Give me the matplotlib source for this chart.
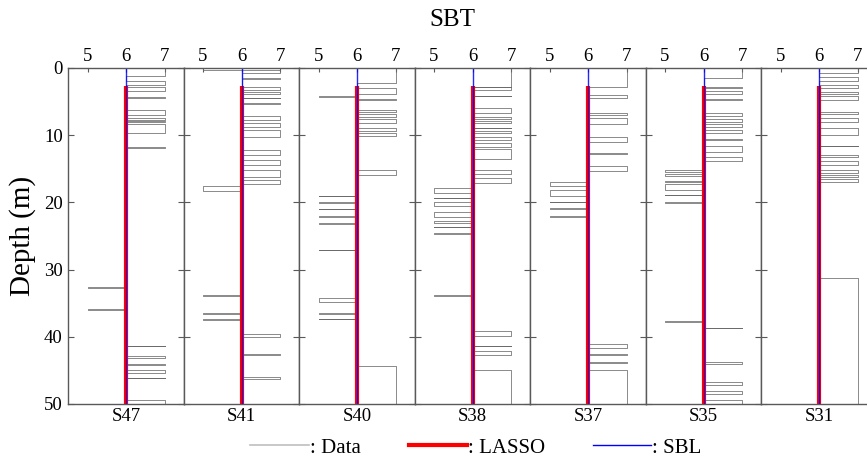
import matplotlib
matplotlib.use("Agg")
import matplotlib.pyplot as plt
from matplotlib.lines import Line2D

plt.rcParams['font.family'] = ['Liberation Serif', 'DejaVu Serif']

sites = ["S47", "S41", "S40", "S38", "S37", "S35", "S31"]
base_sbt = 6.0
max_depth = 50.0

# Data layers: (top depth, bottom depth, SBT) where SBT deviates from base 6
S47_layers = [(0, 1.2, 7), (2.0, 2.5, 7), (2.8, 3.4, 7), (4.3, 4.45, 7), (6.25, 7.0, 7),
              (7.5, 7.7, 7), (7.85, 8.0, 7), (8.3, 9.6, 7), (11.8, 11.9, 7),
              (32.6, 32.75, 5), (35.85, 36.0, 5), (41.3, 41.4, 7), (42.9, 43.2, 7),
              (44.1, 44.2, 7), (44.9, 45.4, 7), (46.1, 46.2, 7), (49.4, 50, 7)]
S41_layers = [(0, 0.35, 5), (0.35, 0.8, 7), (1.5, 1.7, 7), (2.8, 3.3, 7), (3.6, 3.8, 7),
              (4.4, 4.5, 7), (5.2, 5.3, 7), (7.2, 7.7, 7), (8.2, 8.8, 7), (9.3, 10.2, 7),
              (12.2, 12.9, 7), (13.7, 14.4, 7), (15.2, 16.2, 7), (16.7, 17.3, 7),
              (17.6, 18.3, 5), (33.8, 33.95, 5), (36.45, 36.55, 5), (37.3, 37.45, 5),
              (39.6, 40.1, 7), (42.6, 42.7, 7), (46.0, 46.3, 7)]
S40_layers = [(0, 2.3, 7), (3.0, 3.8, 7), (4.1, 4.25, 5), (4.6, 4.7, 7), (6.2, 6.5, 7),
              (6.9, 7.3, 7), (7.6, 8.2, 7), (9.0, 9.4, 7), (9.7, 10.1, 7), (15.2, 15.9, 7),
              (19.0, 19.1, 5), (20.0, 20.15, 5), (21.0, 21.05, 5), (22.0, 22.1, 5),
              (23.0, 23.15, 5), (27.05, 27.15, 5), (34.3, 34.8, 5), (36.5, 36.6, 5),
              (37.3, 37.4, 5), (44.3, 50, 7)]
S38_layers = [(0, 2.8, 7), (2.8, 3.3, 7), (4.1, 4.2, 7), (6.0, 6.7, 7), (7.3, 7.6, 7),
              (7.9, 8.2, 7), (8.9, 9.0, 7), (9.4, 9.6, 7), (10.3, 10.7, 7), (11.2, 11.7, 7),
              (12.1, 13.6, 7), (15.2, 15.7, 7), (16.3, 17.1, 7),
              (17.9, 18.6, 5), (19.3, 19.4, 5), (19.9, 20.6, 5), (21.4, 22.1, 5),
              (22.8, 23.0, 5), (23.6, 23.7, 5), (24.6, 24.7, 5), (33.85, 33.95, 5),
              (39.2, 39.9, 7), (41.3, 41.4, 7), (42.1, 42.7, 7), (44.9, 50, 7)]
S37_layers = [(0, 2.8, 7), (4.0, 4.5, 7), (6.7, 7.0, 7), (7.5, 8.3, 7), (10.2, 11.0, 7),
              (12.7, 12.8, 7), (14.6, 15.3, 7),
              (16.9, 17.6, 5), (18.2, 19.0, 5), (19.9, 20.0, 5), (20.9, 21.0, 5),
              (22.0, 22.1, 5), (41.0, 41.6, 7), (42.6, 42.7, 7), (43.8, 43.9, 7),
              (44.9, 50, 7)]
S35_layers = [(0, 1.5, 7), (2.8, 3.0, 7), (3.4, 3.8, 7), (4.6, 4.7, 7), (6.7, 7.2, 7),
              (7.6, 8.0, 7), (8.4, 8.8, 7), (9.3, 9.7, 7), (10.6, 10.7, 7), (11.6, 12.5, 7),
              (13.2, 13.9, 7), (15.2, 15.5, 5), (15.8, 16.1, 5), (16.8, 17.0, 5),
              (17.3, 18.1, 5), (18.85, 18.95, 5), (19.95, 20.05, 5), (37.65, 37.75, 5),
              (38.65, 38.75, 7), (43.7, 44.0, 7), (46.7, 47.2, 7), (48.0, 48.5, 7),
              (49.4, 50, 7)]
S31_layers = [(0, 0.8, 7), (1.4, 2.0, 7), (2.5, 3.0, 7), (3.5, 3.8, 7), (4.2, 4.7, 7),
              (6.5, 6.8, 7), (7.4, 8.1, 7), (9.0, 10.0, 7), (11.55, 11.65, 7),
              (12.9, 13.3, 7), (13.9, 14.4, 7), (15.2, 15.6, 7), (15.9, 16.2, 7),
              (16.5, 16.9, 7), (31.3, 50, 7)]
data_layers = [S47_layers, S41_layers, S40_layers, S38_layers, S37_layers, S35_layers, S31_layers]

lasso_depth = [2.7, 50]
lasso_sbt = [6, 6]
sbl_depth = [0, 50]
sbl_sbt = [6, 6]

xticks = [5, 6, 7]
yticks = [0, 10, 20, 30, 40, 50]


def step_profile(layers):
    xs, ys = [base_sbt], [0.0]
    for top, bot, val in layers:
        xs += [base_sbt, val, val, base_sbt]
        ys += [top, top, bot, bot]
    xs.append(base_sbt)
    ys.append(max_depth)
    return xs, ys


W, H = 867, 457
fig = plt.figure(figsize=(W / 100, H / 100), dpi=100)
left_px, top_px, bot_px, pw = 68.3, 68.0, 404.0, 115.5
spine_col = '0.35'

for i, (site, layers) in enumerate(zip(sites, data_layers)):
    ax = fig.add_axes([(left_px + i * pw) / W, (H - bot_px) / H, pw / W, (bot_px - top_px) / H])
    xs, ys = step_profile(layers)
    ax.plot(xs, ys, color='0.42', lw=0.55)
    ax.plot(lasso_sbt, lasso_depth, color='#ff0000', lw=3.0, solid_capstyle='butt')
    ax.plot(sbl_sbt, sbl_depth, color='#0000ff', lw=1.0, alpha=0.85)
    ax.set_xlim(4.5, 7.5)
    ax.set_ylim(max_depth, 0)
    ax.set_xticks(xticks)
    ax.set_yticks(yticks)
    ax.xaxis.tick_top()
    ax.tick_params(axis='x', direction='in', top=True, bottom=False, labeltop=True,
                   labelbottom=False, length=3, pad=2, labelsize=13.5, color=spine_col)
    ax.tick_params(axis='y', direction='in', left=True, right=True, length=4,
                   labelsize=13.5, pad=4, color=spine_col)
    if i > 0:
        ax.tick_params(axis='y', labelleft=False)
    for sp in ax.spines.values():
        sp.set_color(spine_col)
        sp.set_linewidth(1.0)
    ax.set_xlabel(site, fontsize=13.5, labelpad=3)
    if i == 0:
        ax.set_ylabel('Depth (m)', fontsize=21, labelpad=6)

fig.text(452 / W, 1 - 20 / H, 'SBT', ha='center', va='center', fontsize=18)

handles = [Line2D([], [], color='0.75', lw=1.2),
           Line2D([], [], color='#ff0000', lw=3.0),
           Line2D([], [], color='#0000ff', lw=1.0)]
fig.legend(handles, [': Data', ': LASSO', ': SBL'], loc='center',
           bbox_to_anchor=(476 / W, 1 - 448 / H), ncol=3, frameon=False,
           fontsize=15, handlelength=2.8, handletextpad=0.05, columnspacing=2.3)

fig.savefig('out.png', dpi=100)
